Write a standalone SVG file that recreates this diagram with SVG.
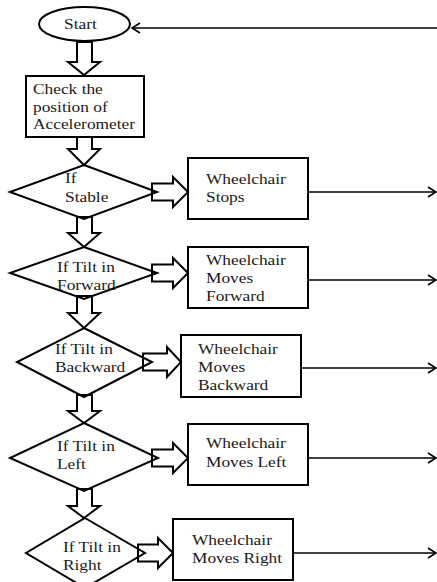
<svg xmlns="http://www.w3.org/2000/svg" width="437" height="582" viewBox="0 0 437 582">
<defs>
<style>
.shape{fill:none;stroke:#000;stroke-width:2}
.blk{fill:#fff;stroke:#000;stroke-width:2;stroke-linejoin:miter}
.ln{fill:none;stroke:#000;stroke-width:1.6}
text{font-family:"Liberation Serif","Times New Roman",serif;font-size:15.5px;fill:#1a1a1a;transform-box:fill-box;transform-origin:0 50%;transform:scaleX(1.12)}
</style>
<marker id="ah" markerWidth="10" markerHeight="12" refX="9" refY="6" orient="auto" markerUnits="userSpaceOnUse">
<path d="M1,1 L9,6 L1,11" fill="none" stroke="#000" stroke-width="1.6"/>
</marker>
</defs>
<rect width="437" height="582" fill="#fff"/>
<g id="connectors">
<line class="ln" x1="437" y1="28" x2="132" y2="28" marker-end="url(#ah)"/>
<line class="ln" x1="308" y1="192" x2="436" y2="192" marker-end="url(#ah)"/>
<line class="ln" x1="308" y1="280" x2="436" y2="280" marker-end="url(#ah)"/>
<line class="ln" x1="301" y1="368" x2="436" y2="368" marker-end="url(#ah)"/>
<line class="ln" x1="308" y1="458" x2="436" y2="458" marker-end="url(#ah)"/>
<line class="ln" x1="293" y1="553" x2="436" y2="553" marker-end="url(#ah)"/>
<polygon class="blk" points="77,42 92,42 92,62 100,62 84,75 68,62 77,62"/>
<polygon class="blk" points="77,137 92,137 92,149 100,149 84,165 68,149 77,149"/>
<polygon class="blk" points="77,217 92,217 92,233 100,233 84,247 68,233 77,233"/>
<polygon class="blk" points="77,296 92,296 92,313 100,313 84,328 68,313 77,313"/>
<polygon class="blk" points="77,395 92,395 92,411 100,411 84,423 68,411 77,411"/>
<polygon class="blk" points="77,489 92,489 92,506 100,506 84,518 68,506 77,506"/>
<polygon class="blk" points="152,183.5 173,183.5 173,177 188,192 173,207 173,200.5 152,200.5"/>
<polygon class="blk" points="152,264.5 173,264.5 173,258 188,273 173,288 173,281.5 152,281.5"/>
<polygon class="blk" points="143,353.5 167,353.5 167,347 181,362 167,377 167,370.5 143,370.5"/>
<polygon class="blk" points="152,449.5 173,449.5 173,443 188,458 173,473 173,466.5 152,466.5"/>
<polygon class="blk" points="138,544.5 158,544.5 158,538 173,553 158,568 158,561.5 138,561.5"/>
</g>
<g id="start">
<ellipse class="shape" cx="84.5" cy="24" rx="45.5" ry="17"/>
<text x="64" y="29">Start</text>
</g>
<g id="check">
<rect class="shape" x="26" y="76" width="118" height="61"/>
<text x="33" y="94.5">Check the</text>
<text x="33" y="112">position of</text>
<text x="33" y="129.5">Accelerometer</text>
</g>
<g id="d1">
<polygon class="shape" points="84,165 157,192 84,219 10,192"/>
<text x="65" y="183">If</text>
<text x="65" y="202">Stable</text>
</g>
<g id="b1">
<rect class="shape" x="188" y="158" width="120" height="61"/>
<text x="206" y="184">Wheelchair</text>
<text x="206" y="202">Stops</text>
</g>
<g id="d2">
<polygon class="shape" points="84,247 157,273 84,299 10,273"/>
<text x="57" y="272">If Tilt in</text>
<text x="57" y="290">Forward</text>
</g>
<g id="b2">
<rect class="shape" x="188" y="247" width="120" height="61"/>
<text x="206" y="265">Wheelchair</text>
<text x="206" y="283">Moves</text>
<text x="206" y="301.5">Forward</text>
</g>
<g id="d3">
<polygon class="shape" points="84,328 152,362 84,397 17,362"/>
<text x="55" y="354">If Tilt in</text>
<text x="55" y="372">Backward</text>
</g>
<g id="b3">
<rect class="shape" x="181" y="335" width="120" height="62"/>
<text x="198" y="354">Wheelchair</text>
<text x="198" y="372">Moves</text>
<text x="198" y="390.5">Backward</text>
</g>
<g id="d4">
<polygon class="shape" points="84,423 158,458 84,491 10,458"/>
<text x="57" y="451">If Tilt in</text>
<text x="57" y="469">Left</text>
</g>
<g id="b4">
<rect class="shape" x="188" y="424" width="120" height="61"/>
<text x="206" y="448">Wheelchair</text>
<text x="206" y="467">Moves Left</text>
</g>
<g id="d5">
<polygon class="shape" points="85,518 145,553 85,588 26,553"/>
<text x="63" y="552">If Tilt in</text>
<text x="63" y="570">Right</text>
</g>
<g id="b5">
<rect class="shape" x="173" y="519" width="120" height="61"/>
<text x="192" y="545">Wheelchair</text>
<text x="192" y="563">Moves Right</text>
</g>
</svg>
